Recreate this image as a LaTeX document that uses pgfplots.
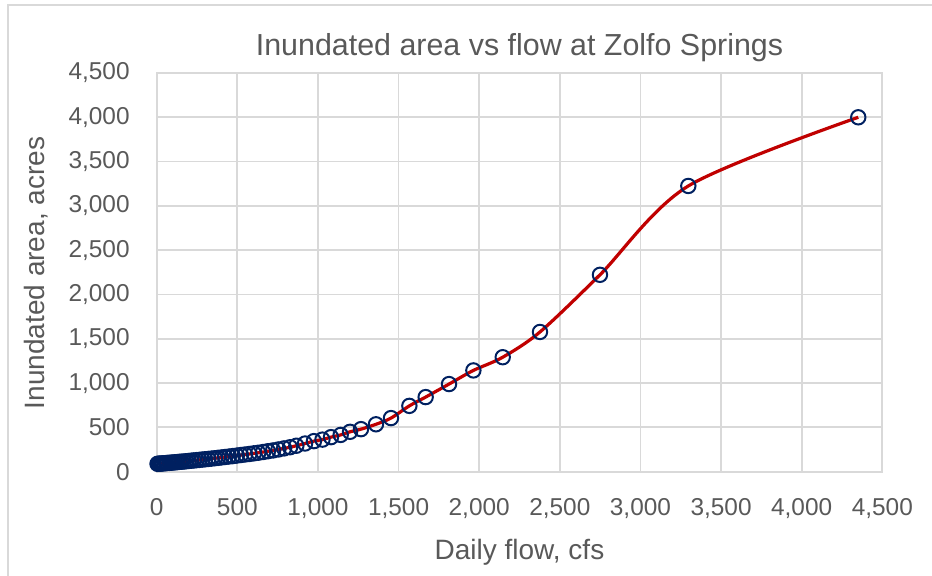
\documentclass[border=0pt]{standalone}
\usepackage{fontspec}
\setmainfont{Liberation Sans}
\usepackage{pgfplots}
\pgfplotsset{compat=1.18}

\definecolor{txtgray}{HTML}{595959}
\definecolor{gridgray}{HTML}{D9D9D9}
\definecolor{linered}{HTML}{C00000}
\definecolor{marknavy}{HTML}{002060}

\begin{document}
\begin{tikzpicture}
% page size, 1px = 0.5pt
\path[use as bounding box] (0,0) rectangle (466pt,288pt);
\draw[gridgray, line width=0.8pt] (4pt,0) -- (4pt,285.5pt) -- (466pt,285.5pt);

\begin{axis}[
    at={(78.35pt,52.15pt)}, anchor=south west,
    scale only axis, width=362.8pt, height=199.35pt,
    xmin=0, xmax=4500, ymin=0, ymax=4500,
    xtick={0,500,...,4500}, ytick={0,500,...,4500},
    grid=major,
    major grid style={gridgray, line width=0.9pt},
    axis line style={gridgray, line width=0.9pt},
    tick style={draw=none},
    /pgf/number format/assume math mode=true,
    /pgf/number format/1000 sep={,},
    ticklabel style={font=\fontsize{12.2}{14}\selectfont, text=txtgray},
    xticklabel style={yshift=-10pt},
    yticklabel style={xshift=-10pt},
    scaled ticks=false,
    clip=false,
]
\addplot[linered, line width=1.6pt, smooth, tension=0.5,
    mark=o, mark size=3.6pt,
    mark options={draw=marknavy, line width=1pt, solid}]
coordinates {
(5,89) (12,90) (20,91) (29,92) (38,94) (48,95) (58,97) (68,99) (79,100)
(90,102) (102,104) (114,106) (127,108) (140,111) (154,113) (168,115)
(183,118) (198,121) (214,124) (230,127) (247,130) (264,133) (282,137)
(300,140) (320,144) (340,148) (360,152) (380,156) (402,161) (425,166)
(448,171) (472,176) (497,182) (522,188) (548,194) (575,200) (602,207)
(630,214) (660,222) (690,231) (722,240) (755,251) (790,263) (827,276)
(866,293) (920,318) (975,345) (1028,362) (1081,390) (1141,415)
(1199,450) (1267,480) (1360,535) (1453,605) (1567,743) (1668,842)
(1813,989) (1964,1143) (2146,1292) (2377,1577) (2749,2222)
(3297,3225) (4351,4000)
};
\end{axis}

\node[text=txtgray, font=\fontsize{15.2}{18}\selectfont] at (259.75pt,264pt)
    {Inundated area vs flow at Zolfo Springs};
\node[text=txtgray, font=\fontsize{14}{16}\selectfont] at (259.75pt,12pt)
    {Daily flow, cfs};
\node[text=txtgray, font=\fontsize{14}{16}\selectfont, rotate=90] at (18pt,151.5pt)
    {Inundated area, acres};
\end{tikzpicture}
\end{document}
